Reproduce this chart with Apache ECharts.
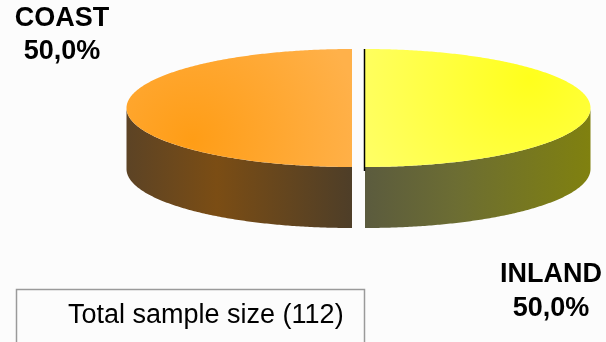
<!DOCTYPE html>
<html>
<head>
<meta charset="utf-8">
<script src="https://cdn.jsdelivr.net/npm/echarts@6/dist/echarts.min.js"></script>
<style>
  html, body { margin: 0; padding: 0; background: #fcfcfc; }
  #chart { width: 606px; height: 342px; }
</style>
</head>
<body>
<div id="chart"></div>
<script>
// Sample split by location
const categories = ['INLAND', 'COAST'];
const counts = [56, 56];
const sampleCaption = 'Total sample size';

// Look of each slice: top face spot/base colours, side wall stops
const topColors = [
  { spot: '#ffff1c', base: '#ffff68', spotAt: [530, 78], r: 190 },
  { spot: '#ff9d16', base: '#ffb14a', spotAt: [192, 140], r: 170 }
];
const wallColors = [
  ['#5b5b3e', '#6c6d33', '#80810f'],
  ['#5c4325', '#7b4d14', '#4e3e28']
];
const edgeColors = ['#000000', null];

// Pie geometry in pixels
const pie = { cx: 358.5, cy: 108, rx: 225.5, ry: 59, depth: 61, explode: 6.5 };

const total = counts.reduce((a, b) => a + b, 0);
const pct = v => (v / total * 100).toFixed(1).replace('.', ',') + '%';

function arcPoints(cx, cy, a0, a1, dy) {
  const pts = [];
  const n = Math.max(2, Math.ceil(Math.abs(a1 - a0) / 0.01));
  for (let k = 0; k <= n; k++) {
    const a = a0 + (a1 - a0) * k / n;
    pts.push([cx + pie.rx * Math.cos(a), cy + pie.ry * Math.sin(a) + (dy || 0)]);
  }
  return pts;
}

function renderItem(params, api) {
  const i = params.dataIndex;
  let before = 0;
  for (let k = 0; k < i; k++) before += counts[k];
  const v = api.value(0);
  // start at 12 o'clock, clockwise on screen
  const a0 = -Math.PI / 2 + before / total * Math.PI * 2;
  const a1 = a0 + v / total * Math.PI * 2;
  const mid = (a0 + a1) / 2;
  const cx = pie.cx + pie.explode * Math.cos(mid);
  const cy = pie.cy + pie.explode * Math.sin(mid) * pie.ry / pie.rx;

  const children = [];
  // front side wall: the part of the rim facing the viewer (0..PI)
  const f0 = Math.max(a0, 0), f1 = Math.min(a1, Math.PI);
  if (f1 > f0) {
    const topArc = arcPoints(cx, cy, f0, f1, 0);
    const botArc = arcPoints(cx, cy, f1, f0, pie.depth);
    const wc = wallColors[i];
    children.push({
      type: 'polygon',
      shape: { points: topArc.concat(botArc) },
      style: {
        fill: {
          type: 'linear', x: 0, y: 0, x2: 1, y2: 0,
          colorStops: [
            { offset: 0, color: wc[0] },
            { offset: 0.4, color: wc[1] },
            { offset: 1, color: wc[2] }
          ]
        }
      }
    });
  }
  // top face
  const tc = topColors[i];
  const top = [[cx, cy]].concat(arcPoints(cx, cy, a0, a1, 0));
  children.push({
    type: 'polygon',
    shape: { points: top },
    style: {
      fill: {
        type: 'radial', x: tc.spotAt[0], y: tc.spotAt[1], r: tc.r, global: true,
        colorStops: [
          { offset: 0, color: tc.spot },
          { offset: 1, color: tc.base }
        ]
      }
    }
  });
  if (edgeColors[i]) {
    const p0 = top[1], p1 = top[top.length - 1];
    children.push({
      type: 'polyline',
      shape: { points: [[p0[0] - 0.5, p0[1]], [cx - 0.5, cy], [p1[0] - 0.5, p1[1] + 4]] },
      style: { stroke: edgeColors[i], lineWidth: 1.5, fill: null }
    });
  }
  return { type: 'group', children: children };
}

const chart = echarts.init(document.getElementById('chart'), null, { renderer: 'canvas' });

const labelFont = 'bold 27px "Liberation Sans", Arial, sans-serif';

chart.setOption({
  backgroundColor: '#fcfcfc',
  animation: false,
  series: [{
    type: 'custom',
    coordinateSystem: 'none',
    renderItem: renderItem,
    data: counts.map((v, i) => ({ name: categories[i], value: [v] }))
  }],
  graphic: [
    {
      type: 'text', x: 62, y: 2.5,
      style: {
        text: categories[1] + '\n' + pct(counts[1]),
        font: labelFont, lineHeight: 33, align: 'center', verticalAlign: 'top', fill: '#000'
      }
    },
    {
      type: 'text', x: 551, y: 258,
      style: {
        text: categories[0] + '\n' + pct(counts[0]),
        font: labelFont, lineHeight: 34, align: 'center', verticalAlign: 'top', fill: '#000'
      }
    },
    {
      type: 'rect',
      shape: { x: 16.5, y: 289.5, width: 348, height: 80 },
      style: { fill: '#fcfcfc', stroke: '#9a9a9a', lineWidth: 1.5 }
    },
    {
      type: 'text', x: 68, y: 316,
      style: {
        text: sampleCaption + ' (' + total + ')',
        font: '27px "Liberation Sans", Arial, sans-serif',
        align: 'left', verticalAlign: 'middle', fill: '#000'
      }
    }
  ]
});
</script>
</body>
</html>
